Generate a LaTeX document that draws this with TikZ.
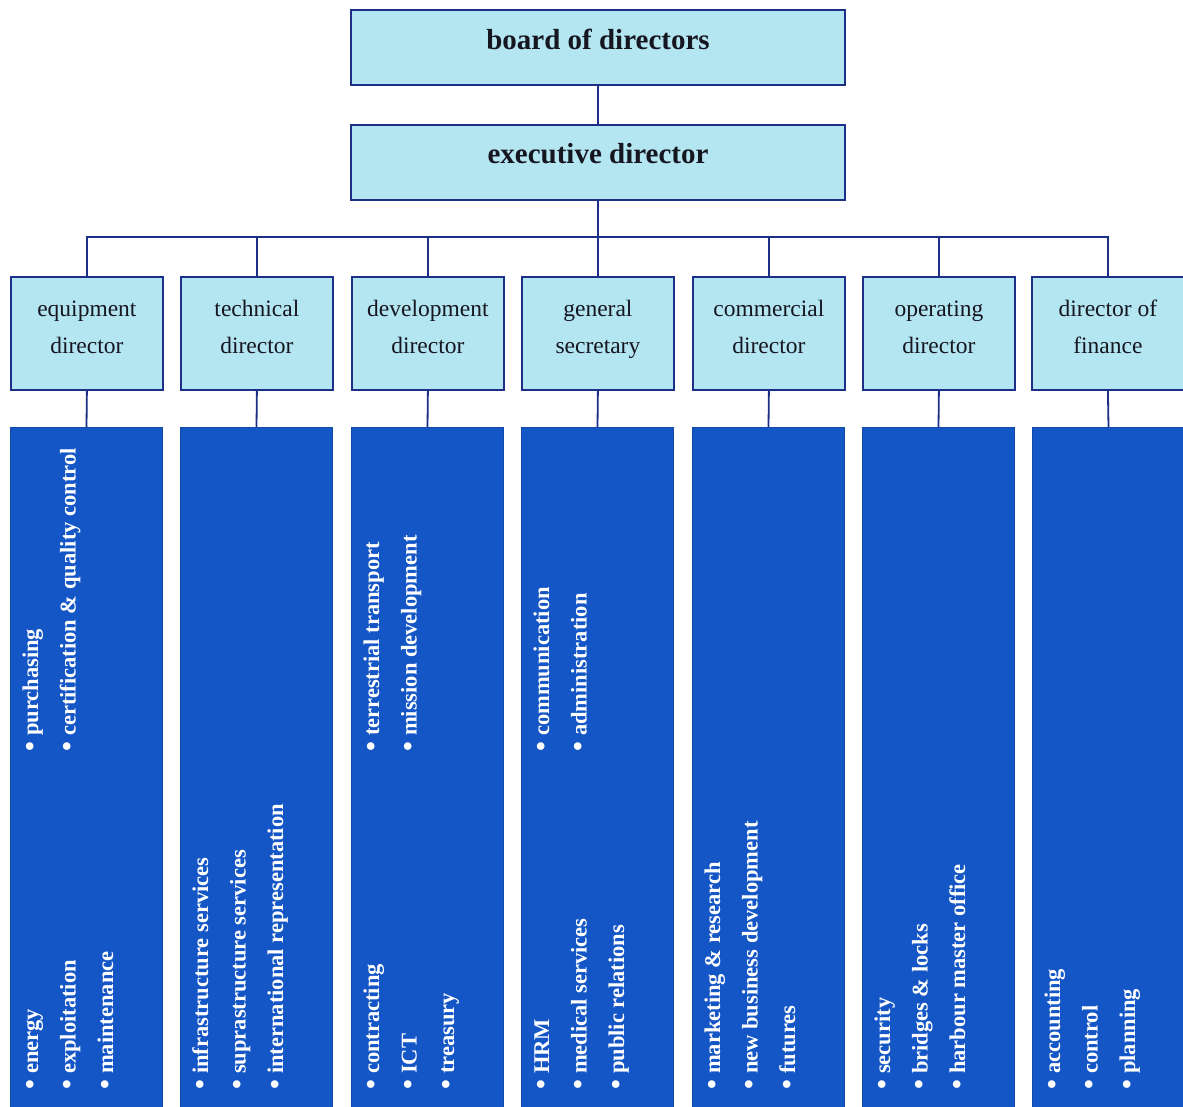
\documentclass[tikz,border=0pt]{standalone}
\usepackage{fontspec}
\setmainfont{Liberation Serif}
\newfontfamily\colfont[BoldFont={Liberation Serif Bold}]{Liberation Serif}
\definecolor{boxfill}{RGB}{180,230,242}
\definecolor{navy}{RGB}{28,48,135}
\definecolor{colblue}{RGB}{20,86,198}
\definecolor{ink}{RGB}{22,22,32}
\newcommand\orgitem[4]{\node[itemtxt] (#1) at (#2,#3) {\raisebox{-1.4pt}{\scalebox{1.25}{\textbullet}}\hspace{6pt}#4};}
\newcommand\twolines[2]{\rule{0pt}{20pt}#1\\#2\rule[-17pt]{0pt}{17pt}}
\begin{document}
\begin{tikzpicture}[x=1pt,y=-1pt,
  topbox/.style={draw=navy,line width=2pt,fill=boxfill,text=ink,minimum width=494pt,minimum height=75pt,inner sep=0pt,text height=20pt,text depth=17pt,font=\fontsize{29}{34}\selectfont\bfseries},
  dirbox/.style={draw=navy,line width=1.8pt,fill=boxfill,text=ink,minimum width=152pt,minimum height=113pt,inner sep=0pt,align=center,anchor=north west,font=\fontsize{23.5}{37}\selectfont},
  colbox/.style={draw=colblue!85!black,line width=1pt,fill=colblue,minimum width=152pt,minimum height=680pt,inner sep=0pt,anchor=north west},
  itemtxt/.style={rotate=90,anchor=base west,inner sep=0pt,text=white,font=\colfont\fontsize{22.5}{26}\selectfont\bfseries},
  conn/.style={draw=navy,line width=1.8pt}]
\useasboundingbox (0,0) rectangle (1183,1106);
\fill[white] (0,0) rectangle (1183,1106);

\node[topbox] (board) at (598,47.5) {board of directors};
\node[topbox] (exec) at (598,162) {executive director};

\node[dirbox] (d1) at (10,276) {\twolines{equipment}{director}};
\node[dirbox] (d2) at (180,276) {\twolines{technical}{director}};
\node[dirbox] (d3) at (351,276) {\twolines{development}{director}};
\node[dirbox] (d4) at (521,276) {\twolines{general}{secretary}};
\node[dirbox] (d5) at (692,276) {\twolines{commercial}{director}};
\node[dirbox] (d6) at (862,276) {\twolines{operating}{director}};
\node[dirbox] (d7) at (1031,276) {\twolines{director of}{finance}};

\node[colbox] (c1) at (10,427) {};
\node[colbox] (c2) at (180,427) {};
\node[colbox] (c3) at (351,427) {};
\node[colbox] (c4) at (521,427) {};
\node[colbox] (c5) at (692,427) {};
\node[colbox] (c6) at (862,427) {};
\node[colbox] (c7) at (1032,427) {};

\path[conn] (board.south) -- (exec.north);
\coordinate (bus) at (598,237);
\path[conn] (exec.south) -- (bus);
\path[conn] (d1.north) |- (bus) -| (d7.north);
\foreach \k in {2,...,6} { \path[conn] (d\k.north) -- (d\k.north |- bus); }
\foreach \k in {1,...,7} { \path[conn] (d\k.south) -- (c\k.north); }

% equipment
\orgitem{a1}{38}{1090}{energy}
\orgitem{a2}{75.5}{1090}{exploitation}
\orgitem{a3}{113}{1090}{maintenance}
\orgitem{a4}{38}{752}{purchasing}
\orgitem{a5}{75.5}{752}{certification \& quality control}
% technical
\orgitem{b1}{208}{1090}{infrastructure services}
\orgitem{b2}{245.5}{1090}{suprastructure services}
\orgitem{b3}{283}{1090}{international representation}
% development
\orgitem{e1}{379}{1090}{contracting}
\orgitem{e2}{416.5}{1090}{ICT}
\orgitem{e3}{454}{1090}{treasury}
\orgitem{e4}{379}{752}{terrestrial transport}
\orgitem{e5}{416.5}{752}{mission development}
% general
\orgitem{g1}{549}{1090}{HRM}
\orgitem{g2}{586.5}{1090}{medical services}
\orgitem{g3}{624}{1090}{public relations}
\orgitem{g4}{549}{752}{communication}
\orgitem{g5}{586.5}{752}{administration}
% commercial
\orgitem{m1}{720}{1090}{marketing \& research}
\orgitem{m2}{757.5}{1090}{new business development}
\orgitem{m3}{795}{1090}{futures}
% operating
\orgitem{o1}{890}{1090}{security}
\orgitem{o2}{927.5}{1090}{bridges \& locks}
\orgitem{o3}{965}{1090}{harbour master office}
% finance
\orgitem{f1}{1060}{1090}{accounting}
\orgitem{f2}{1097.5}{1090}{control}
\orgitem{f3}{1135}{1090}{planning}
\end{tikzpicture}
\end{document}
